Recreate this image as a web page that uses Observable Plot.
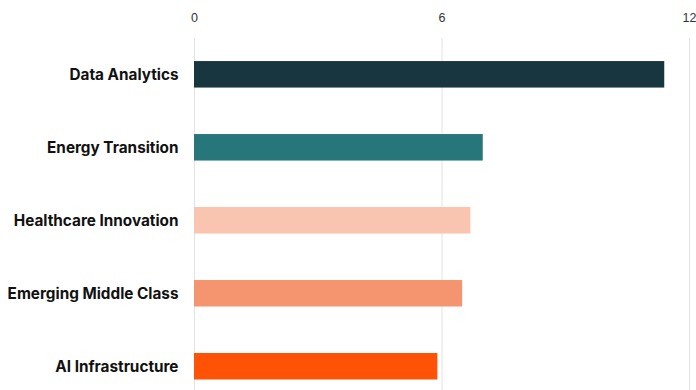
<!DOCTYPE html>
<html>
<head>
<meta charset="utf-8">
<script src="https://cdn.jsdelivr.net/npm/d3@7"></script>
<script src="https://cdn.jsdelivr.net/npm/@observablehq/plot@0.6"></script>
<style>
  html, body { margin: 0; padding: 0; background: #fff; }
  #chart { width: 696px; height: 390px; }
</style>
</head>
<body>
<div id="chart"></div>
<script>
const categories = ["Data Analytics", "Energy Transition", "Healthcare Innovation", "Emerging Middle Class", "AI Infrastructure"];
const values = [11.4, 7.0, 6.7, 6.5, 5.9];
const colors = ["#173640", "#26767a", "#f9c4b0", "#f5956f", "#fe5206"];
const xTicks = [0, 6, 12];

const data = categories.map((c, i) => ({category: c, value: values[i], color: colors[i]}));

const chart = Plot.plot({
  width: 696,
  height: 390,
  marginTop: 38,
  marginBottom: 0,
  marginLeft: 194,
  marginRight: 7,
  style: {fontFamily: "Liberation Sans, Arial, sans-serif", background: "#fff", overflow: "visible"},
  x: {domain: [0, 12], axis: null},
  y: {domain: categories, paddingInner: 0.637, paddingOuter: 0.23, align: 0.687, round: false, axis: null},
  marks: [
    Plot.gridX(xTicks, {stroke: "#e3e3e3", strokeOpacity: 1, strokeWidth: 1}),
    Plot.axisX(xTicks, {anchor: "top", tickSize: 0, tickPadding: 0, dy: -17, fontSize: 12.5, fill: "#333", label: null, tickFormat: d => String(d)}),
    Plot.barX(data, {y: "category", x: "value", fill: "color"}),
    Plot.axisY({anchor: "left", tickSize: 0, tickPadding: 16, fontSize: 15.3, fontWeight: 700, fill: "#111", label: null, fontFamily: "Inter, sans-serif"})
  ]
});
document.getElementById("chart").appendChild(chart);
</script>
</body>
</html>
